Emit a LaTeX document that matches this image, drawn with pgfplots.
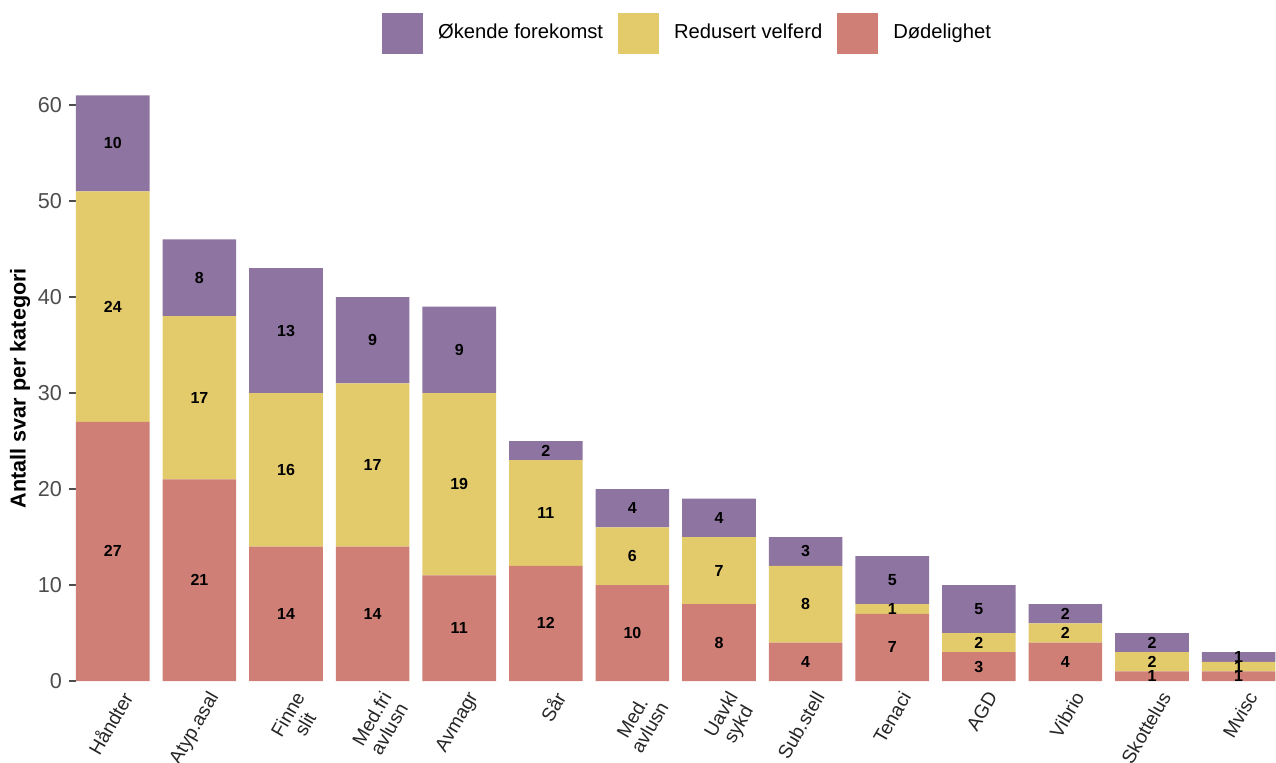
\documentclass[border=0pt]{standalone}
\usepackage{fontspec}
\setmainfont{Liberation Sans}
\usepackage{pgfplots}
\usepackage{pgfplotstable}
\pgfplotsset{compat=1.18}

\definecolor{colOek}{RGB}{142,116,160}
\definecolor{colRed}{RGB}{227,203,108}
\definecolor{colDod}{RGB}{207,127,117}
\definecolor{tickgray}{RGB}{77,77,77}

% x dod red oek
\pgfplotstableread{
x dod red oek
0 27 24 10
1 21 17 8
2 14 16 13
3 14 17 9
4 11 19 9
5 12 11 2
6 10 6 4
7 8 7 4
8 4 8 3
9 7 1 5
10 3 2 5
11 4 2 2
12 1 2 2
13 1 1 1
}\data

% stacked nodes near coords sit in the middle of each segment already
\pgfplotsset{
  midlabel/.style={
    nodes near coords,
    point meta=\thisrow{#1},
    every node near coord/.append style={anchor=center,
      font=\bfseries\fontsize{8}{9}\selectfont, text=black, inner sep=0pt}
  }
}

\begin{document}
\begin{tikzpicture}
\begin{axis}[
  scale only axis,
  x=43.3pt, y=4.8pt,
  xmin=-0.425, xmax=13.425, ymin=0, ymax=61,
  ybar stacked, bar width=0.85,
  clip=false,
  axis line style={draw=none},
  tick align=outside,
  major tick length=3.5pt,
  ytick={0,10,...,60},
  ytick pos=left,
  y tick style={tickgray, line width=0.6pt},
  yticklabel style={font=\fontsize{10.8}{12}\selectfont, text=tickgray},
  xtick={0,...,13},
  xtick style={draw=none},
  xticklabels={Håndter, Atyp.asal, {Finne\\slit}, {Med.fri\\avlusn}, Avmagr, Sår,
    {Med.\\avlusn}, {Uavkl\\sykd}, Sub.stell, Tenaci, AGD, Vibrio, Skottelus, Mvisc},
  xticklabel style={xshift=3.5pt, rotate=60, anchor=north east, align=center,
    font=\fontsize{9.6}{10}\selectfont, text=black!85, inner sep=0.5pt},
  /pgf/number format/assume math mode=true,
  ylabel={Antall svar per kategori},
  ylabel style={at={(axis description cs:-0.0467,0.5)}, anchor=center,
    font=\bfseries\fontsize{10.8}{12}\selectfont},
  reverse legend,
  legend columns=3,
  legend image code/.code={\fill[#1] (0pt,-10.25pt) rectangle (20.5pt,10.25pt);},
  legend style={at={(axis description cs:0.509,1)}, anchor=center, yshift=31.2pt,
    draw=none, fill=none, font=\fontsize{10.1}{12}\selectfont,
    column sep=7.5pt, nodes={inner xsep=0pt}},
]
\addplot[fill=colDod, draw=none, midlabel=dod] table[x=x, y=dod] {\data};
\addlegendentry{Dødelighet}
\addplot[fill=colRed, draw=none, midlabel=red] table[x=x, y=red] {\data};
\addlegendentry{Redusert velferd}
\addplot[fill=colOek, draw=none, midlabel=oek] table[x=x, y=oek] {\data};
\addlegendentry{Økende forekomst}
\coordinate (o) at (rel axis cs:0,0);
\end{axis}
\pgfresetboundingbox
\path (o) ++(-38pt,-40.5pt) rectangle ++(638pt,381pt);
\end{tikzpicture}
\end{document}
